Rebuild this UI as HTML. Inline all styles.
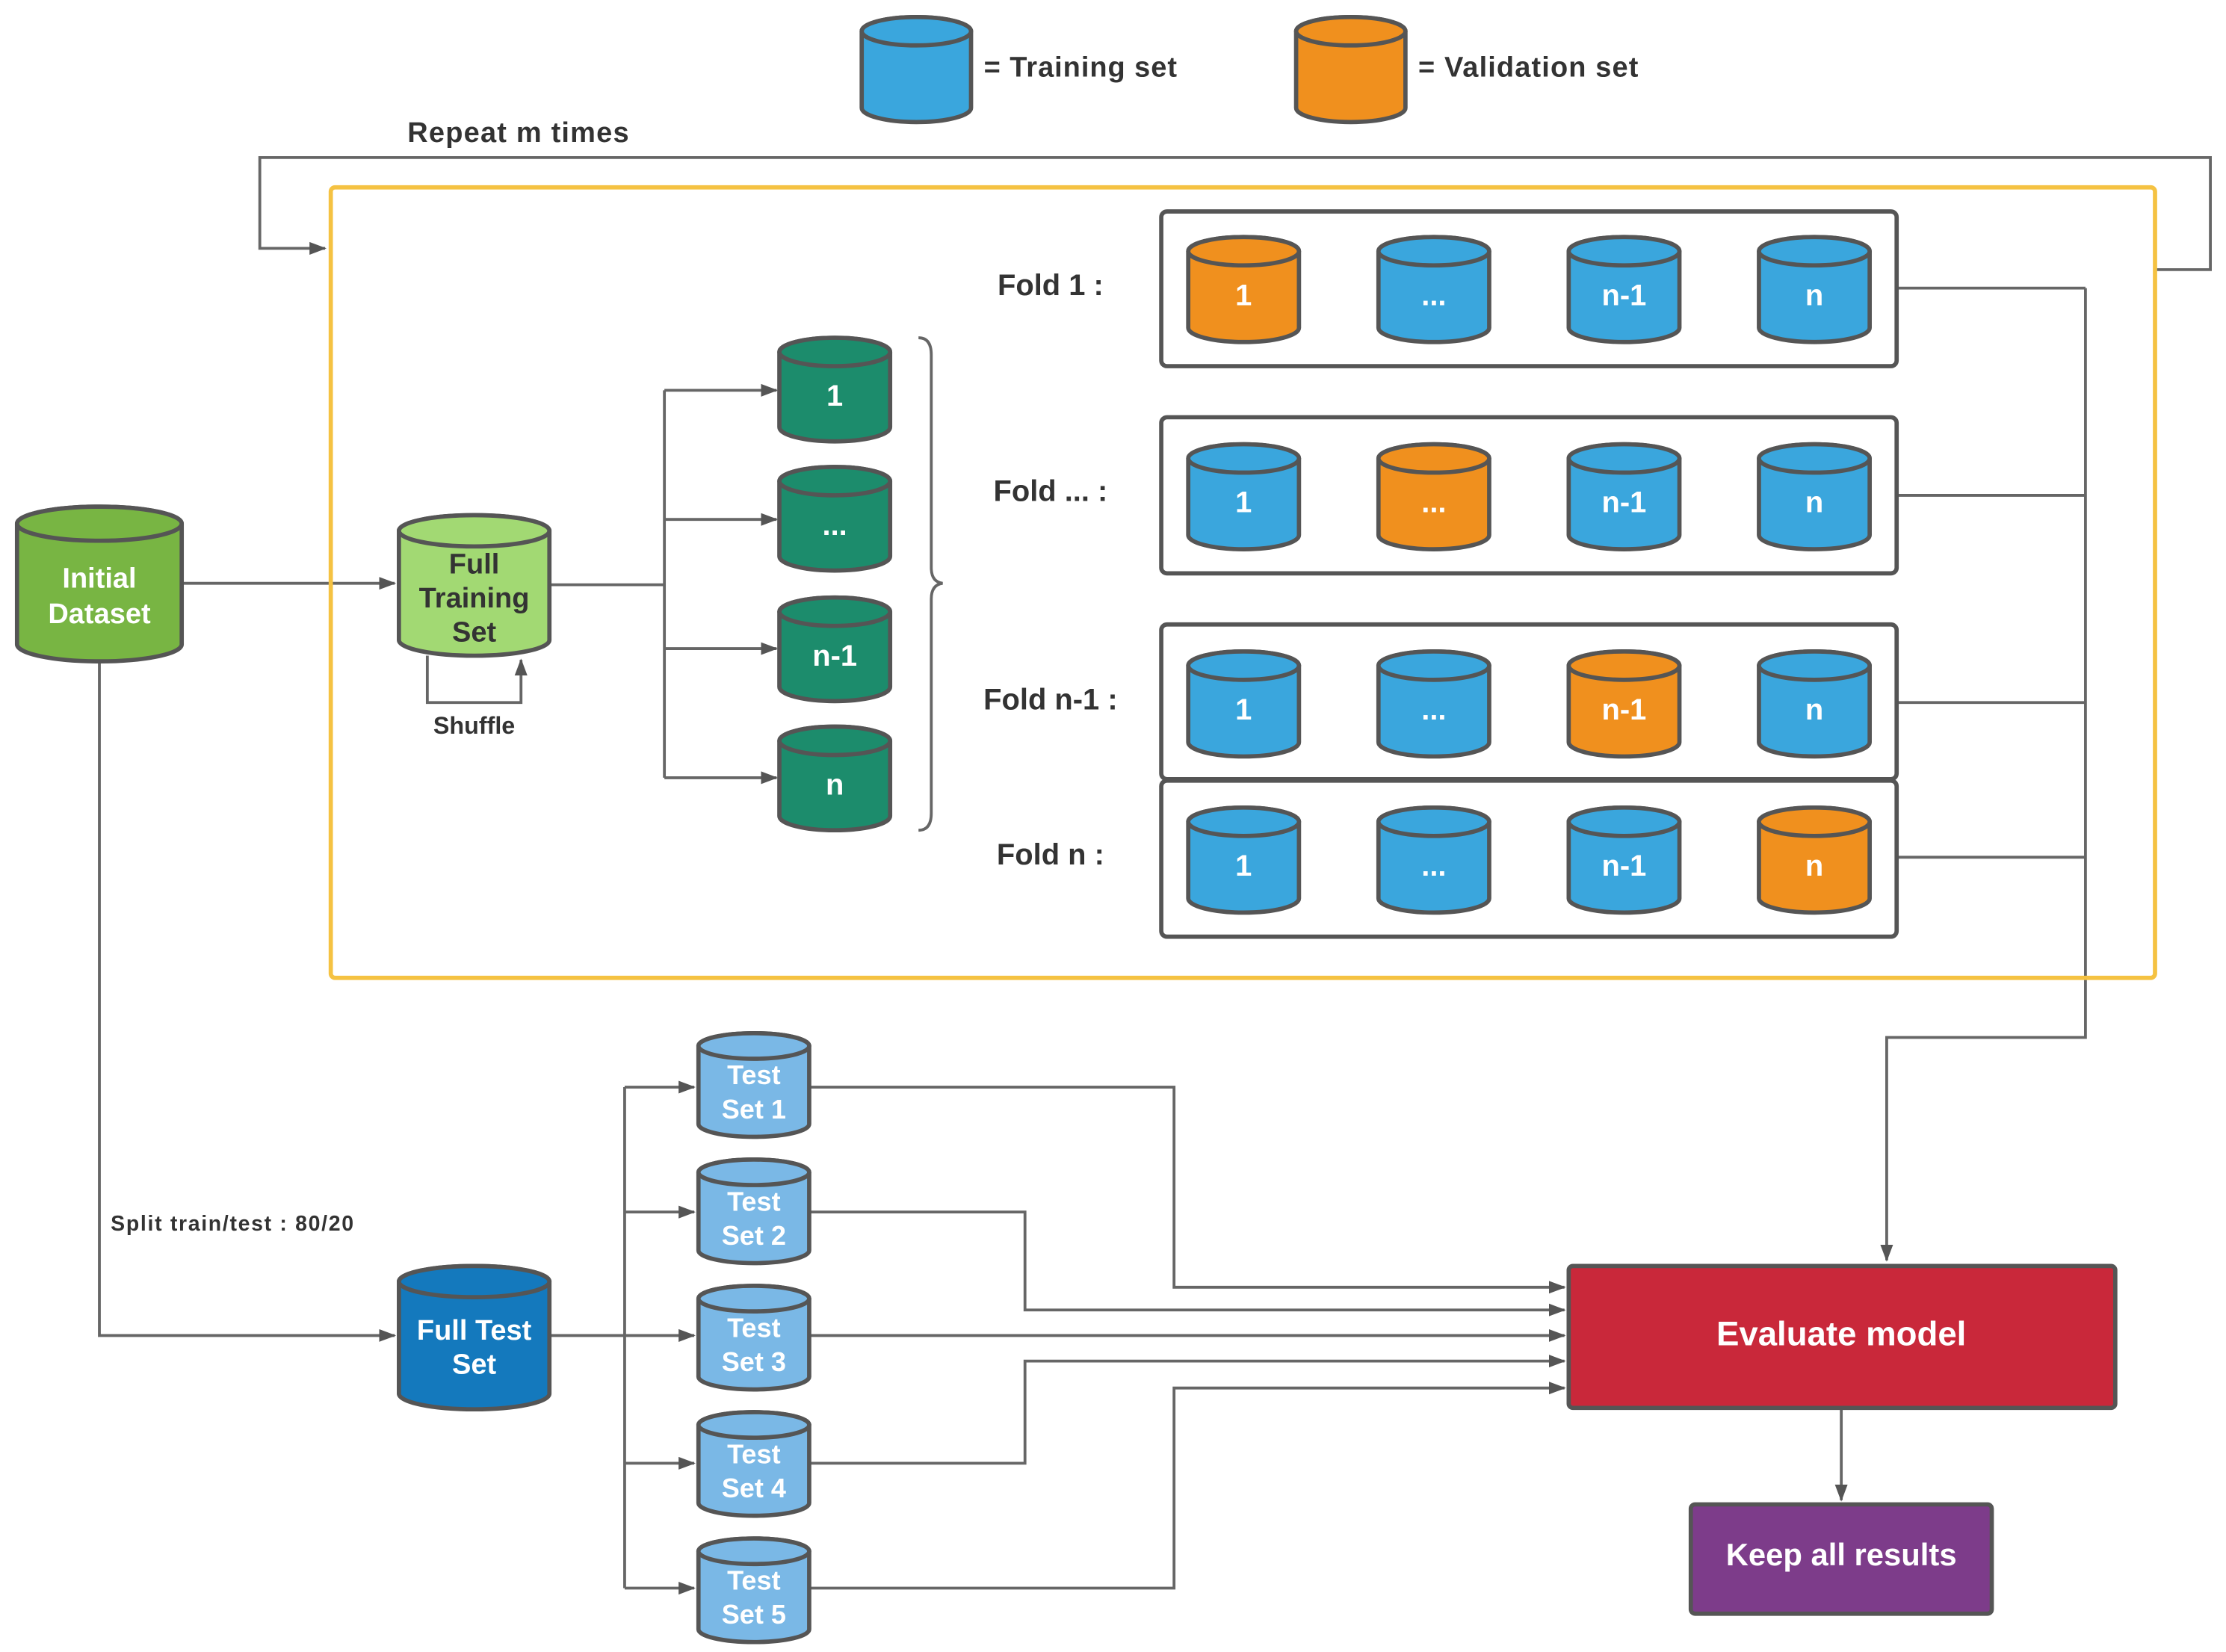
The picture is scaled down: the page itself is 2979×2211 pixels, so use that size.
<!DOCTYPE html>
<html><head><meta charset="utf-8"><style>
html,body{margin:0;padding:0;background:#fff;}
svg{display:block;}
text{font-family:"Liberation Sans",Arial,sans-serif;font-weight:bold;}
</style></head><body>
<svg width="2979" height="2211" viewBox="0 0 1568 1164" preserveAspectRatio="none" xmlns="http://www.w3.org/2000/svg">
<defs>
<marker id="a" markerWidth="12" markerHeight="12" refX="11" refY="6" orient="auto" markerUnits="userSpaceOnUse"><path d="M0,1.5 L12,6 L0,10.5 z" fill="#555"/></marker>
</defs>
<g fill="none" stroke="#666" stroke-width="2">
<path d="M128,411 H278" marker-end="url(#a)"/>
<path d="M387,412 H468"/>
<path d="M468,275 V548"/>
<path d="M468,275 H547" marker-end="url(#a)"/>
<path d="M468,366 H547" marker-end="url(#a)"/>
<path d="M468,457 H547" marker-end="url(#a)"/>
<path d="M468,548 H547" marker-end="url(#a)"/>
<path d="M301,462 V495 H367 V465" marker-end="url(#a)"/>
<path d="M70,466 V941 H278" marker-end="url(#a)"/>
<path d="M387,941 H440"/>
<path d="M440,766 V1119"/>
<path d="M440,766 H489" marker-end="url(#a)"/>
<path d="M440,854 H489" marker-end="url(#a)"/>
<path d="M440,941 H489" marker-end="url(#a)"/>
<path d="M440,1031 H489" marker-end="url(#a)"/>
<path d="M440,1119 H489" marker-end="url(#a)"/>
<path d="M570,766 H827 V907 H1102" marker-end="url(#a)"/>
<path d="M570,854 H722 V923 H1102" marker-end="url(#a)"/>
<path d="M570,941 H1102" marker-end="url(#a)"/>
<path d="M570,1031 H722 V959 H1102" marker-end="url(#a)"/>
<path d="M570,1119 H827 V978 H1102" marker-end="url(#a)"/>
<path d="M1336,203 H1469 M1336,349 H1469 M1336,495 H1469 M1336,604 H1469"/>
<path d="M1469,203 V731 H1329 V888" marker-end="url(#a)"/>
<path d="M1297,992 V1057" marker-end="url(#a)"/>
<path d="M1518,190 H1557 V111 H183 V175 H229" marker-end="url(#a)"/>
<path d="M647,238 Q656,238 656,250 V400 Q656,410 664,411 Q656,412 656,422 V573 Q656,585 647,585" stroke-width="2"/>
</g>
<rect x="233" y="132" width="1285" height="557" rx="3" fill="none" stroke="#f5c242" stroke-width="3"/>
<g fill="none" stroke="#555" stroke-width="3">
<rect x="818" y="149" width="518" height="109" rx="4"/>
<rect x="818" y="294" width="518" height="110" rx="4"/>
<rect x="818" y="440" width="518" height="109" rx="4"/>
<rect x="818" y="550" width="518" height="110" rx="4"/>
</g>
<g stroke="#555" stroke-width="3">
<path d="M607,22 a38.5,10 0 0 1 77,0 v54 a38.5,10 0 0 1 -77,0 z" fill="#3aa6dd"/><ellipse cx="645.5" cy="22" rx="38.5" ry="10" fill="#3aa6dd"/>
<path d="M913,22 a38.5,10 0 0 1 77,0 v54 a38.5,10 0 0 1 -77,0 z" fill="#f0901e"/><ellipse cx="951.5" cy="22" rx="38.5" ry="10" fill="#f0901e"/>
<path d="M12,369 a58,12 0 0 1 116,0 v85 a58,12 0 0 1 -116,0 z" fill="#78b543"/><ellipse cx="70" cy="369" rx="58" ry="12" fill="#78b543"/>
<path d="M281,374 a53,11 0 0 1 106,0 v77 a53,11 0 0 1 -106,0 z" fill="#a2d973"/><ellipse cx="334" cy="374" rx="53" ry="11" fill="#a2d973"/>
<path d="M281,903 a53,11 0 0 1 106,0 v79 a53,11 0 0 1 -106,0 z" fill="#1479bd"/><ellipse cx="334" cy="903" rx="53" ry="11" fill="#1479bd"/>
</g>
<g id="gen" stroke="#555" stroke-width="3"></g>
<rect x="1105" y="892" width="385" height="100" rx="3" fill="#c9283a" stroke="#555" stroke-width="3"/>
<rect x="1191" y="1060" width="212" height="77" rx="3" fill="#7d3c8a" stroke="#555" stroke-width="3"/>
<g font-size="20" fill="#333">
<text x="693" y="54" textLength="136">= Training set</text>
<text x="999" y="54" textLength="155">= Validation set</text>
<text x="287" y="100" textLength="156">Repeat m times</text>
<text x="740" y="208" text-anchor="middle" font-size="21">Fold 1 :</text>
<text x="740" y="353" text-anchor="middle" font-size="21">Fold ... :</text>
<text x="740" y="500" text-anchor="middle" font-size="21">Fold n-1 :</text>
<text x="740" y="609" text-anchor="middle" font-size="21">Fold n :</text>
<text x="334" y="517" text-anchor="middle" font-size="17">Shuffle</text>
<text x="78" y="867" font-size="15" textLength="171">Split train/test : 80/20</text>
<text x="334" y="404" text-anchor="middle" font-size="20">Full</text>
<text x="334" y="428" text-anchor="middle" font-size="20">Training</text>
<text x="334" y="452" text-anchor="middle" font-size="20">Set</text>
</g>
<g font-size="20" fill="#fff" text-anchor="middle">
<text x="70" y="414">Initial</text>
<text x="70" y="439">Dataset</text>
<text x="334" y="944">Full Test</text>
<text x="334" y="968">Set</text>
<text x="1297" y="948" font-size="24">Evaluate model</text>
<text x="1297" y="1103" font-size="22">Keep all results</text>
</g>
<g id="gentext" font-size="21" fill="#fff" text-anchor="middle"></g>
</svg>
<script>
var NS="http://www.w3.org/2000/svg",g=document.getElementById("gen"),gt=document.getElementById("gentext");
function cyl(x,y,w,h,ry,fill){var p=document.createElementNS(NS,"path");
p.setAttribute("d","M"+x+","+(y+ry)+" a"+(w/2)+","+ry+" 0 0 1 "+w+",0 v"+(h-2*ry)+" a"+(w/2)+","+ry+" 0 0 1 -"+w+",0 z");
p.setAttribute("fill",fill);g.appendChild(p);var e=document.createElementNS(NS,"ellipse");
e.setAttribute("cx",x+w/2);e.setAttribute("cy",y+ry);e.setAttribute("rx",w/2);e.setAttribute("ry",ry);e.setAttribute("fill",fill);g.appendChild(e);}
function txt(x,y,s,sz){var t=document.createElementNS(NS,"text");t.setAttribute("x",x);t.setAttribute("y",y);if(sz)t.setAttribute("font-size",sz);t.textContent=s;gt.appendChild(t);}
var B="#3aa6dd",O="#f0901e",G="#1c8c6c",L="#7ab8e6";
[238,329,421,512].forEach(function(y,i){cyl(549,y,78,73,10,G);txt(588,y+48,["1","...","n-1","n"][i]);});
var rows=[167,313,459,569],xs=[837,971,1105,1239],lab=["1","...","n-1","n"];
rows.forEach(function(y,r){xs.forEach(function(x,c){cyl(x,y,78,74,10,r==c?O:B);txt(x+39,y+48,lab[c]);});});
[728,817,906,995,1084].forEach(function(y,i){cyl(492,y,78,73,9,L);txt(531,y+36,"Test",19);txt(531,y+60,"Set "+(i+1),19);});
</script>
</body></html>
